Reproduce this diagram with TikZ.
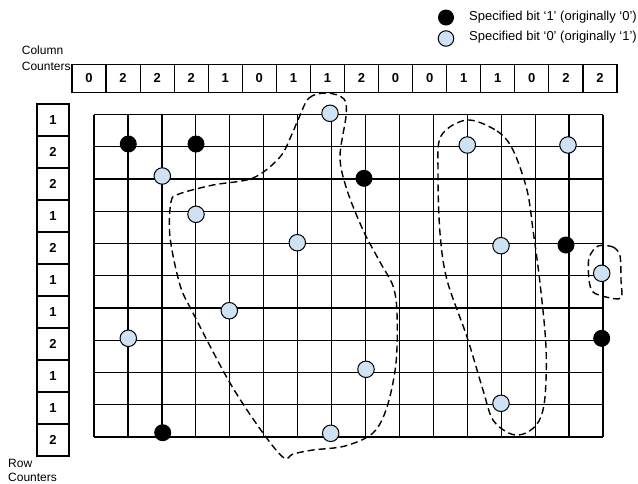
\documentclass[tikz,border=0pt]{standalone}
\usepackage{fontspec}
\setmainfont{Liberation Sans}
\definecolor{lightblue}{RGB}{207,226,243}
\begin{document}
\begin{tikzpicture}[x=1pt,y=-1pt,
  cnt/.style={draw, line width=1.2pt, inner sep=0pt, minimum width=34.06pt,
    minimum height=28.2pt, font=\fontsize{13}{13}\selectfont\bfseries},
  rcnt/.style={draw, line width=1.2pt, inner sep=0pt, minimum width=32pt,
    minimum height=32pt, font=\fontsize{13}{13}\selectfont\bfseries},
  gridline/.style={line width=1.35pt, black},
  bitone/.style={circle, fill=black, inner sep=0pt, minimum size=17pt},
  bitzero/.style={circle, draw=black, line width=1pt, fill=lightblue,
    inner sep=0pt, minimum size=16.5pt},
  lasso/.style={line width=1.4pt, dash pattern=on 7pt off 4pt},
  label/.style={inner sep=0pt, anchor=base west, font=\fontsize{12}{14}\selectfont},
  legendtext/.style={inner sep=0pt, anchor=base west, font=\fontsize{13}{15}\selectfont}]
\useasboundingbox (0,0) rectangle (638,483);

% legend
\node[bitone, minimum size=16pt] (l1) at (446,17.5) {};
\node[bitzero, minimum size=15.5pt] (l0) at (446,38.5) {};
\node[legendtext] (l1t) at (469,20.7) {Specified bit ‘1’ (originally ‘0’)};
\node[legendtext] (l0t) at (469,40.7) {Specified bit ‘0’ (originally ‘1’)};

% counter labels
\node[label] (colA) at (21.7,54.3) {Column};
\node[label] (colB) at (21.7,70) {Counters};
\node[label] (rowA) at (8,467) {Row};
\node[label] (rowB) at (8,481) {Counters};

% column counters
\foreach \v [count=\i from 0] in {0,2,2,2,1,0,1,1,2,0,0,1,1,0,2,2}
  \node[cnt] (c\i) at ({72+34.06*(\i+0.5)},78.4) {\v};

% row counters
\foreach \v [count=\j from 0] in {1,2,2,1,2,1,1,2,1,1,2}
  \node[rcnt] (r\j) at (53,{104+32*(\j+0.5)}) {\v};

% grid
\foreach \i in {0,...,15}
  \draw[gridline] ({94+33.94*\i},114.5) -- ({94+33.94*\i},437);
\foreach \j in {0,...,10}
  \draw[gridline] (94,{114.5+32.25*\j}) -- (603,{114.5+32.25*\j});

% dashed groupings
\draw[lasso] plot[smooth cycle, tension=0.55] coordinates {
  (298,120) (309,98) (327,93) (344,99) (346,116) (340,157) (347,190)
  (363,230) (380,262) (393,286) (397,313) (396,363) (387,407) (373,433)
  (345,446) (313,450) (293,454) (284,458) (263,433) (230,383) (193,313)
  (180,285) (170,237) (171,202) (179,194) (213,185) (253,178) (280,157)
  (292,134)};
\draw[lasso] plot[smooth cycle, tension=0.55] coordinates {
  (467,120) (497,131) (513,150) (527,190) (533,230) (540,283) (546,347)
  (545,397) (539,421) (526,433) (511,434) (493,420) (483,390) (467,337)
  (447,280) (440,233) (438,173) (441,136)};
\draw[lasso] plot[smooth cycle, tension=0.5] coordinates {
  (598,246) (613,247) (620,256) (621,280) (621,298) (606,297) (593,292)
  (589,280) (589,258)};

% specified bits
\node[bitone]  (b1)  at (128.3,144) {};
\node[bitone]  (b2)  at (196,144) {};
\node[bitzero] (z1)  at (162.3,176) {};
\node[bitone]  (b3)  at (364,178.3) {};
\node[bitzero] (z2)  at (196,214.3) {};
\node[bitzero] (z3)  at (297.3,242.7) {};
\node[bitzero] (z4)  at (330,113.3) {};
\node[bitzero] (z5)  at (467.3,145) {};
\node[bitzero] (z6)  at (568,145) {};
\node[bitzero] (z7)  at (501,245.7) {};
\node[bitone]  (b4)  at (566,245) {};
\node[bitzero] (z8)  at (601.7,273.3) {};
\node[bitzero] (z9)  at (229.3,310.7) {};
\node[bitzero] (z10) at (128.3,338.3) {};
\node[bitone]  (b5)  at (162.7,432.7) {};
\node[bitzero] (z11) at (330.7,433.3) {};
\node[bitone]  (b6)  at (601.7,338.3) {};
\node[bitzero] (z12) at (366,369.3) {};
\node[bitzero] (z13) at (501,403.3) {};
\end{tikzpicture}
\end{document}
